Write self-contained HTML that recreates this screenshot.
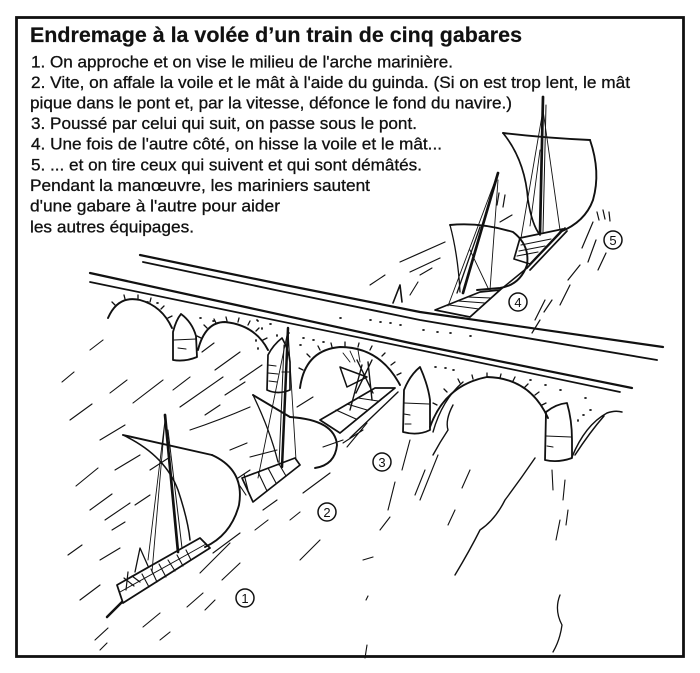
<!DOCTYPE html>
<html>
<head>
<meta charset="utf-8">
<style>
  html,body{margin:0;padding:0;background:#fff;}
  body{width:700px;height:673px;overflow:hidden;}
  svg{display:block;}
  .t{font-family:"Liberation Sans",Arial,sans-serif;fill:#111;}
</style>
</head>
<body>
<svg width="700" height="673" viewBox="0 0 700 673" xmlns="http://www.w3.org/2000/svg">
  <rect x="0" y="0" width="700" height="673" fill="#fff"/>
  <!-- border -->
  <rect x="16.5" y="17.5" width="667" height="639" fill="none" stroke="#111" stroke-width="2.8"/>

  <!-- text -->
  <text class="t" x="30" y="42" font-size="21.4" font-weight="bold" textLength="492" lengthAdjust="spacingAndGlyphs" stroke="#111" stroke-width="0.2">Endremage à la volée d’un train de cinq gabares</text>
  <g class="t" font-size="17" stroke="#111" stroke-width="0.3">
    <text x="31" y="67.5" textLength="422" lengthAdjust="spacingAndGlyphs">1. On approche et on vise le milieu de l'arche marinière.</text>
    <text x="31" y="88" textLength="599" lengthAdjust="spacingAndGlyphs">2. Vite, on affale la voile et le mât à l'aide du guinda. (Si on est trop lent, le mât</text>
    <text x="30" y="108.5" textLength="482" lengthAdjust="spacingAndGlyphs">pique dans le pont et, par la vitesse, défonce le fond du navire.)</text>
    <text x="31" y="129" textLength="386" lengthAdjust="spacingAndGlyphs">3. Poussé par celui qui suit, on passe sous le pont.</text>
    <text x="31" y="149.7" textLength="411" lengthAdjust="spacingAndGlyphs">4. Une fois de l'autre côté, on hisse la voile et le mât...</text>
    <text x="31" y="170.4" textLength="391" lengthAdjust="spacingAndGlyphs">5. ... et on tire ceux qui suivent et qui sont démâtés.</text>
    <text x="30" y="191" textLength="340" lengthAdjust="spacingAndGlyphs">Pendant la manœuvre, les mariniers sautent</text>
    <text x="30" y="211.7" textLength="250" lengthAdjust="spacingAndGlyphs">d'une gabare à l'autre pour aider</text>
    <text x="30" y="232.4" textLength="164" lengthAdjust="spacingAndGlyphs">les autres équipages.</text>
  </g>

  <g fill="none" stroke="#111" stroke-linecap="round" stroke-linejoin="round">
    <!-- ===== BRIDGE ===== -->
    <path d="M140,255 L280,284 L420,312 L663,347" stroke-width="2.2"/>
    <path d="M143,262 L280,291 L420,320 L657,360" stroke-width="1.9"/>
    <path d="M90,273 L250,308 L410,343 L632,388" stroke-width="2.2"/>
    <path d="M90,282 L250,315 L410,348 L620,392" stroke-width="1.7"/>

    <!-- arches -->
    <path d="M108,318 Q118,295 140,300 Q162,306 172,328" stroke-width="1.9"/>
    <path d="M198,350 Q205,322 225,322 Q255,325 268,350" stroke-width="1.9"/>
    <path d="M300,388 Q305,350 340,347 Q380,347 400,385" stroke-width="1.9"/>
    <path d="M430,427 Q445,385 487,377 Q530,378 548,418" stroke-width="1.9"/>

    <!-- arch ticks -->
    <g stroke-width="1.3">
      <path d="M115,305 L112,302 M125,299 L124,295 M138,299 L138,295 M150,302 L151,298 M161,309 L164,306 M168,318 L172,316"/>
      <path d="M201,338 L197,336 M207,328 L204,325 M216,323 L214,319 M227,321 L226,317 M238,322 L239,318 M248,325 L250,321 M256,331 L259,328 M263,340 L267,338"/>
      <path d="M303,370 L299,368 M310,357 L307,354 M320,350 L318,346 M332,347 L331,343 M345,346 L345,342 M358,347 L359,343 M370,350 L372,346 M382,356 L385,353 M391,365 L395,362 M397,375 L401,373"/>
      <path d="M437,405 L433,403 M447,392 L444,389 M460,383 L458,379 M473,379 L472,375 M487,377 L487,373 M500,378 L501,374 M513,381 L515,377 M525,387 L528,384 M535,395 L539,392 M542,405 L546,403"/>
    </g>

    <!-- pillars / cutwaters -->
    <path d="M173,360 L173,332 Q176,320 181,314 Q192,322 196,336 L197,357 Q185,362 173,360 Z" stroke-width="1.8"/>
    <path d="M174,340 L196,339 M178,348 L186,349" stroke-width="1.1"/>
    <path d="M267,390 L268,355 Q273,345 282,338 Q289,350 290,362 L290,390 Q278,395 267,390 Z" stroke-width="1.7"/>
    <path d="M268,365 L276,366 M268,373 L278,374 M269,381 L277,382 M282,372 L289,372" stroke-width="1.1"/>
    <path d="M403,432 L404,390 Q410,375 420,367 Q428,385 430,400 L430,430 Q418,436 403,432 Z" stroke-width="1.8"/>
    <path d="M404,403 L429,404 M404,414 L410,415 M405,424 L411,424" stroke-width="1.1"/>
    <path d="M545,460 L546,412 Q556,404 567,403 Q572,420 572,440 L572,458 Q558,463 545,460 Z" stroke-width="1.8"/>
    <path d="M546,436 L571,437 M547,446 L553,447" stroke-width="1.1"/>
    <path d="M572,457 Q585,425 607,413 Q615,410 622,412 M575,455 Q590,432 604,416" stroke-width="1.5"/>

    <!-- inner swirl arch 4 -->
    <path d="M433,432 Q442,400 463,382 M453,405 Q445,420 448,430 Q440,442 433,455" stroke-width="1.4"/>

    <!-- stipple dots on bridge -->
    <g stroke-width="1.7">
      <path d="M147,302 l1,0 M157,303 l1,0 M200,318 l1,0 M213,321 l1,0 M257,320 l1,1 M262,328 l0,1 M270,324 l1,0 M277,335 l0,1 M303,338 l1,0 M313,340 l1,0 M323,342 l1,0 M340,318 l1,0 M370,320 l1,0 M380,322 l1,0 M390,323 l1,0 M400,325 l1,0 M423,330 l1,0 M437,332 l1,0 M450,333 l1,0 M435,367 l1,0 M445,368 l1,0 M453,370 l1,0 M470,336 l1,0 M530,380 l1,0 M545,385 l1,0 M560,390 l1,0 M585,398 l1,0 M590,410 l1,0 M583,415 l1,0 M578,420 l0,1 M256,340 l0,1 M258,348 l0,1 M288,333 l1,0 M300,345 l1,0"/>
    </g>

    <!-- ===== BOAT 5 (far) ===== -->
    <path d="M543,97 L540,233" stroke-width="2.7"/>
    <path d="M546,105 L543,232" stroke-width="1"/>
    <path d="M503,133 Q545,138 590,140" stroke-width="1.9"/>
    <path d="M590,140 Q601,172 593,200 Q585,222 560,232" stroke-width="1.9"/>
    <path d="M503,133 Q525,160 528,200 Q532,225 540,235" stroke-width="1.7"/>
    <path d="M543,110 L521,238 M543,110 L560,230 M540,150 L530,226" stroke-width="0.9"/>
    <path d="M520,238 L563,229 L530,264 L514,259 Z" stroke-width="1.7"/>
    <path d="M521,245 L551,239 M519,251 L545,246 M517,256 L538,252" stroke-width="1.1"/>
    <path d="M565,228 L527,268 M567,231 L530,270" stroke-width="1.7"/>
    <circle cx="613" cy="240" r="9" stroke-width="1.5"/>
    <text x="613" y="245" text-anchor="middle" font-family="Liberation Sans, sans-serif" font-size="13" fill="#111" stroke="none">5</text>
    <path d="M597,212 L599,220 M603,210 L605,219 M609,212 L610,221 M593,222 L582,248 M596,240 L588,262 M606,253 L598,270 M580,265 L568,280 M570,285 L560,305 M552,300 L544,312" stroke-width="1.2"/>

    <!-- ===== BOAT 4 ===== -->
    <path d="M498,173 L463,293" stroke-width="2.7"/>
    <path d="M480,227 L457,293" stroke-width="1.3"/>
    <path d="M450,225 Q480,222 513,232 Q530,245 527,265 Q520,285 500,288 L477,290" stroke-width="1.9"/>
    <path d="M450,225 Q458,255 460,292" stroke-width="1.3"/>
    <path d="M498,173 L448,306 M498,180 L490,290 M470,250 L488,288" stroke-width="0.9"/>
    <path d="M435,310 L480,292 L500,290 L470,317 Z" stroke-width="1.7"/>
    <path d="M449,305 L479,309 M458,301 L485,303 M467,297 L491,298" stroke-width="1.1"/>
    <path d="M470,317 L500,290 M500,290 L527,268" stroke-width="1.5"/>
    <circle cx="518" cy="302" r="9" stroke-width="1.5"/>
    <text x="518" y="307" text-anchor="middle" font-family="Liberation Sans, sans-serif" font-size="13" fill="#111" stroke="none">4</text>
    <path d="M497,205 L499,193 M503,207 L505,195 M500,222 L512,215 M400,262 L445,242 M410,272 L440,258 M540,320 L532,333 M545,300 L535,320" stroke-width="1.2"/>
    <!-- small pennant behind bridge -->
    <path d="M393,303 L400,285 L402,302" stroke-width="1.6"/>

    <!-- ===== BOAT 3 (under arch) ===== -->
    <path d="M320,420 L375,388 L395,388 L340,433 Z" stroke-width="1.7"/>
    <path d="M336,410 L356,419 M347,404 L367,410 M358,398 L378,401" stroke-width="1.1"/>
    <path d="M340,367 L367,377 L347,387 Z" stroke-width="1.5"/>
    <path d="M357,360 L373,393 M372,360 L356,393 M362,365 L350,410 M368,362 L372,400" stroke-width="1.4"/>
    <path d="M343,353 L350,362 M350,351 L355,362 M358,350 L360,362" stroke-width="0.9"/>
    <path d="M395,388 L340,433 M398,392 L350,438" stroke-width="1.4"/>
    <circle cx="382" cy="462" r="9" stroke-width="1.5"/>
    <text x="382" y="467" text-anchor="middle" font-family="Liberation Sans, sans-serif" font-size="13" fill="#111" stroke="none">3</text>

    <!-- ===== BOAT 2 ===== -->
    <path d="M288,328 L282,467" stroke-width="2.5"/>
    <path d="M284,345 L279,465" stroke-width="1"/>
    <path d="M253,395 L290,417" stroke-width="1.9"/>
    <path d="M290,417 Q335,420 337,445 Q335,465 315,468" stroke-width="1.9"/>
    <path d="M253,395 Q270,430 278,462" stroke-width="1.3"/>
    <path d="M288,330 L258,478 M288,330 L296,460" stroke-width="0.9"/>
    <path d="M242,478 L295,458 L300,465 L253,502 Z" stroke-width="1.7"/>
    <path d="M258,472 L267,491 M268,468 L276,483 M279,464 L286,476" stroke-width="1.1"/>
    <path d="M238,478 L250,470 M240,486 L246,495 M244,474 L248,490" stroke-width="1.1"/>
    <circle cx="327" cy="512" r="9" stroke-width="1.5"/>
    <text x="327" y="517" text-anchor="middle" font-family="Liberation Sans, sans-serif" font-size="13" fill="#111" stroke="none">2</text>

    <!-- ===== BOAT 1 ===== -->
    <path d="M165,415 L178,552" stroke-width="2.7"/>
    <path d="M168,430 L182,548" stroke-width="1"/>
    <path d="M123,435 L212,455" stroke-width="1.9"/>
    <path d="M212,455 Q245,470 239,505 Q231,535 205,547" stroke-width="1.9"/>
    <path d="M123,435 Q165,455 178,490 Q188,520 190,540" stroke-width="1.5"/>
    <path d="M165,420 L152,572 M165,420 L148,560" stroke-width="0.9"/>
    <path d="M117,585 L200,538 L210,548 L123,603 Z" stroke-width="1.8"/>
    <path d="M120,592 L206,544" stroke-width="1"/>
    <path d="M142,574 L149,587 M151,569 L157,582 M159,564 L166,577 M168,560 L175,571 M177,555 L183,566 M186,550 L191,560" stroke-width="1.1"/>
    <path d="M135,572 L140,548 L148,566" stroke-width="1.3"/>
    <path d="M124,578 L134,586 M128,572 L126,590 M132,576 L140,582" stroke-width="1.2"/>
    <path d="M107,617 L122,602" stroke-width="2.5"/>
    <circle cx="245" cy="598" r="9" stroke-width="1.5"/>
    <text x="245" y="603" text-anchor="middle" font-family="Liberation Sans, sans-serif" font-size="13" fill="#111" stroke="none">1</text>

    <!-- ===== WATER STROKES ===== -->
    <g stroke-width="1.1">
      <path d="M62,382 L74,372 M70,420 L92,404 M76,486 L98,468 M90,510 L112,494 M68,555 L82,545 M80,600 L100,585 M95,640 L108,628"/>
      <path d="M90,350 L103,340 M110,393 L127,380 M133,403 L163,380 M173,390 L190,377 M180,407 L223,377 M190,430 Q220,420 250,407 M230,450 L247,443 M250,457 L277,450"/>
      <path d="M100,440 L125,425 M115,470 L140,455 M105,520 L130,503 M135,505 L150,495 M150,470 L170,457 M100,560 L120,548 M112,530 L125,522"/>
      <path d="M202,352 L214,343 M215,370 L240,352 M225,395 L245,382 M240,380 L262,365 M205,415 L220,405"/>
      <path d="M213,553 L240,533 M200,573 L230,543 M222,580 L240,563 M187,607 L203,593 M143,627 L160,613 M100,650 L107,643 M160,640 L170,632 M205,610 L215,600"/>
      <path d="M303,493 L330,473 M263,510 L277,500 M343,443 L363,430 M380,530 L390,517 M297,407 L313,397 M323,447 L343,440 M347,447 L367,423 M255,530 L268,520 M290,520 L300,512"/>
      <path d="M363,560 L373,557 M366,600 L368,596 M367,645 L365,658 M300,560 L320,540"/>
      <path d="M410,440 L402,470 M395,482 L388,510 M438,455 L420,500 M425,470 L415,495"/>
      <path d="M535,458 Q520,480 505,500 Q495,520 480,530 Q470,550 455,575" stroke-width="1.4"/>
      <path d="M552,470 L553,490 M565,480 L563,500 M560,520 L556,540 M568,510 L566,525"/>
      <path d="M560,595 Q554,610 562,625 Q560,640 553,652" stroke-width="1.3"/>
      <path d="M470,470 L462,488 M455,510 L448,525"/>
      <path d="M370,285 L385,275 M420,275 L432,268 M410,295 L418,282"/>
    </g>
  </g>
</svg>
</body>
</html>
